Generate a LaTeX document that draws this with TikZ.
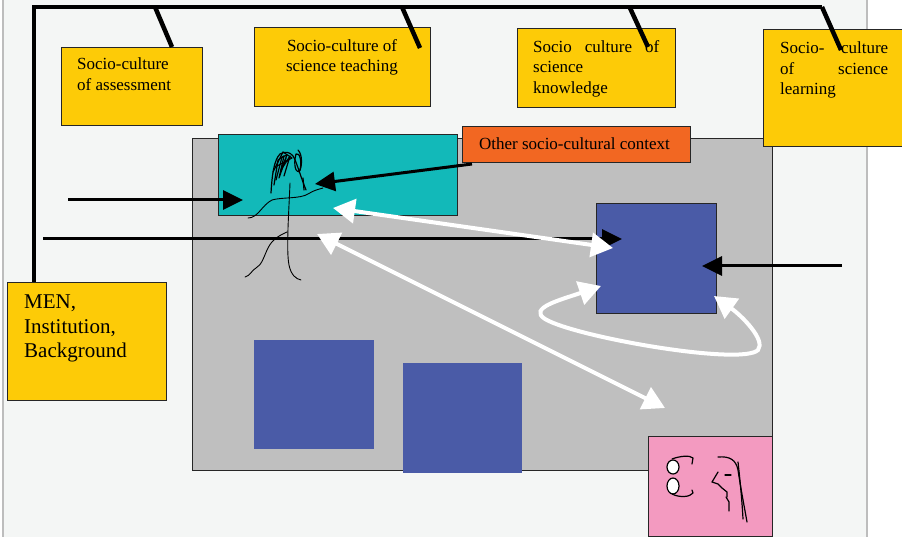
\documentclass[tikz,border=0pt]{standalone}
\usepackage{fontspec}
\setmainfont{Liberation Serif}
\usepackage{xcolor}
\usetikzlibrary{arrows.meta, positioning}

\definecolor{paper}{HTML}{F4F6F5}
\definecolor{rim}{HTML}{BDBDBD}
\definecolor{notepad}{HTML}{FDCB07}
\definecolor{stage}{HTML}{BFBFBF}
\definecolor{lagoon}{HTML}{12B9B9}
\definecolor{ember}{HTML}{F26722}
\definecolor{indigo}{HTML}{4A5BA7}
\definecolor{blush}{HTML}{F39AC0}

\begin{document}
\begin{tikzpicture}[
  x=1pt, y=-1pt,
  box/.style={
    rectangle,
    draw=black!85,
    line width=0.8pt,
    fill=#1,
    anchor=north west,
    inner sep=0pt
  },
  plain/.style={
    rectangle,
    fill=#1,
    anchor=north west,
    inner sep=0pt
  },
  note/.style={
    inner sep=0pt,
    align=left,
    font=\fontsize{17}{20.5}\selectfont
  },
  bracket/.style={
    line width=4.5pt,
    draw=black
  },
  feed/.style={
    -{Triangle[length=20pt, width=19pt]},
    line width=3pt,
    draw=black
  },
  flow/.style={
    {Triangle[length=22pt, width=24pt]}-{Triangle[length=22pt, width=24pt]},
    line width=4pt,
    draw=white,
    fill=white
  },
  doodle/.style={
    line width=1.2pt,
    draw=black,
    line cap=round,
    line join=round
  }
]
\useasboundingbox (0,0) rectangle (902,537);

% sheet
\fill[paper] (3,0) rectangle (867,537);
\draw[rim, line width=1.2pt] (3,0) -- (3,537);
\draw[rim, line width=1.2pt] (867,0) -- (867,537);

% classroom and the things inside it
\node[box=stage, minimum width=580pt, minimum height=332pt] (room) at (192,138) {};
\node[box=lagoon, minimum width=239pt, minimum height=81pt] (board) at (218,134) {};
\node[box=ember, minimum width=228pt, minimum height=36pt] (other) at (462,126) {};
\node[note, anchor=center] (other-text) at (574.5,144) {Other socio-cultural context};
\node[box=indigo, minimum width=120pt, minimum height=110pt] (pupil) at (596,203) {};
\node[plain=indigo, minimum width=120pt, minimum height=109pt] (groupA) at (254,340) {};
\node[plain=indigo, minimum width=119pt, minimum height=110pt] (groupB) at (403,363) {};
\node[box=blush, minimum width=124pt, minimum height=100pt] (observer) at (648,436) {};

% socio-cultural frames
\node[box=notepad, minimum width=141pt, minimum height=78pt] (assess) at (61,47) {};
\node[note, anchor=north west] (assess-text) at (77,58) {Socio-culture\\of assessment};
\node[box=notepad, minimum width=176pt, minimum height=79pt] (teach) at (254,27) {};
\node[note, align=center, anchor=north] (teach-text) at (342,39) {Socio-culture of\\science teaching};
\node[box=notepad, minimum width=158pt, minimum height=79pt] (know) at (517,28) {};
\node[note, text width=126pt, anchor=north west] (know-text) at (533,40) {Socio\hfill culture\hfill of\\science\\knowledge};
\node[box=notepad, minimum width=142pt, minimum height=117pt] (learn) at (763,29) {};
\node[note, text width=108pt, anchor=north west] (learn-text) at (780,42) {Socio-\hfill culture\\of\hfill science\\learning};
\node[box=notepad, minimum width=159pt, minimum height=118pt] (men) at (7,282) {};
\node[note, anchor=north west, font=\fontsize{21}{24.5}\selectfont] (men-text) at (24,295) {MEN,\\Institution,\\Background};

% bracket joining the frames
\coordinate (corner) at (34,7);
\coordinate (rail) at (822,7);
\coordinate (b1) at (155,7);
\coordinate (b2) at (402,7);
\coordinate (b3) at (630,8);
\coordinate (b4) at (822,7);
\draw[bracket] (men.north west -| corner) -- (corner) -- (rail);
\draw[bracket] (b1) -- (172,47);
\draw[bracket] (b2) -- (420,48);
\draw[bracket] (b3) -- (648,47);
\draw[bracket] (b4) -- (841,50);

% inputs
\coordinate (src1) at (68,200);
\coordinate (tip1) at (243,200);
\coordinate (src2) at (43,239);
\coordinate (tip2) at (622,239);
\coordinate (src3) at (842,266);
\coordinate (tip3) at (702,266);
\coordinate (src4) at (472,164);
\coordinate (tip4) at (315,184);
\draw[feed] (src2) -- (tip2);

% exchanges
\coordinate (talkA) at (333,208);
\coordinate (talkB) at (613,248);
\coordinate (lookA) at (317,234);
\coordinate (lookB) at (665,408);
\coordinate (selfA) at (601,286);
\coordinate (selfB) at (714,296);
\draw[flow] (talkA) -- (talkB);
\draw[flow] (lookA) -- (lookB);
\draw[flow, fill=none] (selfA) .. controls (560,300) and (528,308) .. (545,319)
  .. controls (575,337) and (742,366) .. (758,350)
  .. controls (766,340) and (742,316) .. (selfB);

\draw[feed] (src1) -- (tip1);
\draw[feed] (src3) -- (tip3);
\draw[feed] (src4) -- (tip4);

% teacher sketch
\draw[doodle] (271,193) .. controls (272,175) and (274,160) .. (280,154)
  .. controls (285,151) and (290,152) .. (293,156)
  .. controls (296,160) and (300,175) .. (306,190);
\draw[doodle] (274,185) -- (278,160) -- (284,156) -- (279,178) -- (286,158);
\draw[doodle] (276,180) -- (282,157) -- (287,155) -- (281,170) -- (290,156) -- (284,176);
\draw[doodle] (273,172) -- (283,152) -- (292,158) -- (277,166);
\draw[doodle] (296,154) .. controls (293,165) and (296,175) .. (300,170)
  .. controls (302,162) and (300,152) .. (296,154);
\draw[doodle] (298,150) .. controls (303,155) and (302,168) .. (299,172);
\draw[doodle] (303,178) -- (304,190);
\draw[doodle, line width=0.9pt] (290,183) .. controls (289,210) and (286,250) .. (289,265)
  .. controls (291,275) and (296,279) .. (301,280);
\draw[doodle, line width=0.9pt] (248,218) .. controls (258,218) and (262,205) .. (272,200)
  .. controls (282,197) and (300,199) .. (308,194)
  .. controls (314,190) and (320,189) .. (323,188);
\draw[doodle, line width=0.9pt] (287,232) .. controls (278,236) and (272,240) .. (268,248)
  .. controls (264,256) and (262,265) .. (256,268)
  .. controls (252,270) and (250,276) .. (245,277);

% observer sketch
\draw[doodle, fill=white] (673,467) ellipse [x radius=6pt, y radius=7pt];
\draw[doodle, fill=white] (673,486) ellipse [x radius=6pt, y radius=8pt];
\draw[doodle] (672,459) .. controls (680,456) and (690,455) .. (693,458) -- (692,464);
\draw[doodle] (672,494) .. controls (680,498) and (690,497) .. (693,493) -- (692,490);
\draw[doodle] (718,457) .. controls (730,456) and (736,460) .. (738,470)
  .. controls (741,490) and (744,505) .. (747,522);
\draw[doodle] (738,462) .. controls (740,480) and (742,500) .. (743,519);
\draw[doodle] (718,472) -- (712,482) -- (718,484) -- (722,488) -- (727,492) -- (727,497);
\draw[doodle] (726,497) -- (729,502) -- (729,511);
\draw[doodle] (725,475) -- (731,475);
\end{tikzpicture}
\end{document}
